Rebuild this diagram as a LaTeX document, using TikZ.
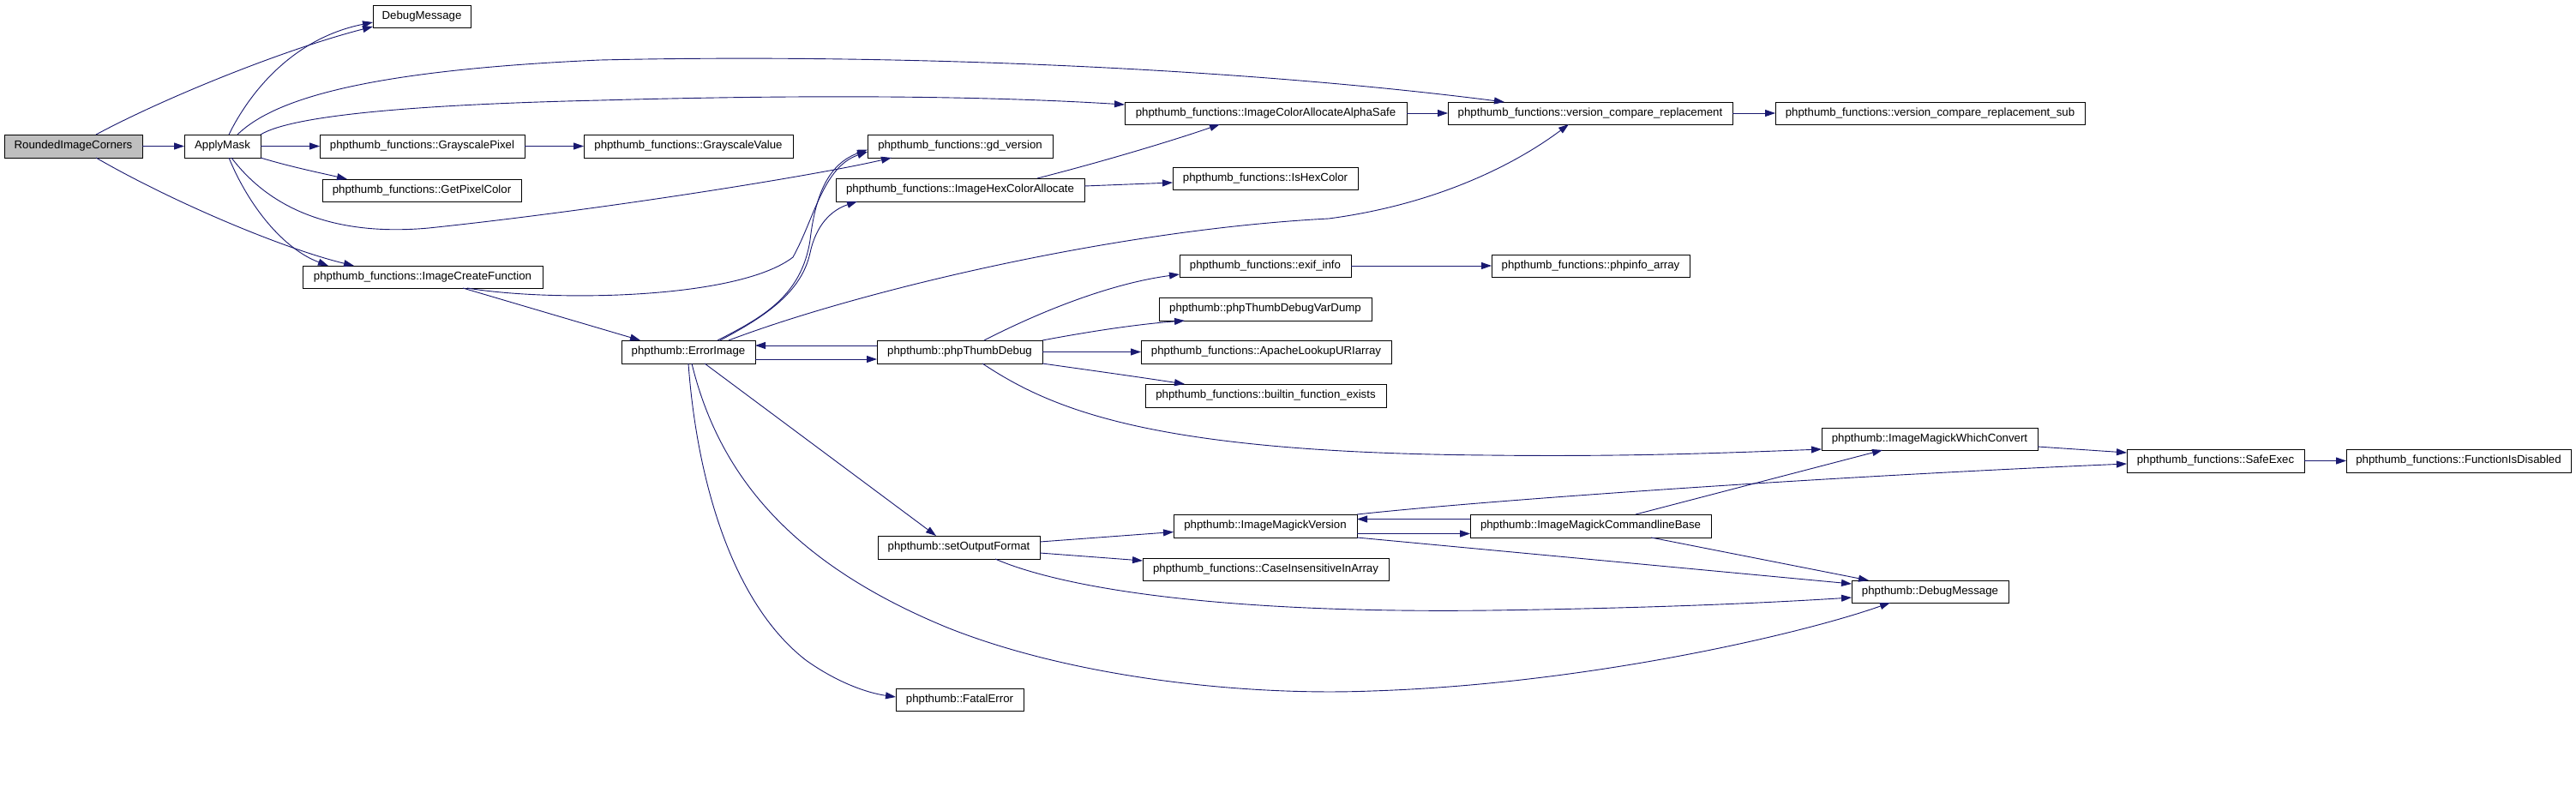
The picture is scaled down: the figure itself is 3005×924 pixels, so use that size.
\documentclass[tikz,border=0pt]{standalone}
\usepackage{fontspec}
\setmainfont{Liberation Sans}
\usetikzlibrary{arrows.meta}
\definecolor{edgeblue}{RGB}{25,25,112}
\definecolor{rootgray}{RGB}{191,191,191}
\begin{document}
\begin{tikzpicture}[x=1pt,y=-1pt,
  fnbox/.style={draw=black,line width=1pt,fill=white,inner sep=0pt,outer sep=0pt,
    minimum height=27pt,font=\fontsize{13.25}{16}\selectfont,text=black},
  rootbox/.style={fnbox,fill=rootgray},
  call/.style={draw=edgeblue,line width=0.9pt,-{Triangle[length=12pt,width=8pt]}}]
\useasboundingbox[fill=white] (0,0) rectangle (3005,924);

% nodes
\node[rootbox,minimum width=161pt] (ric) at (85.5,170.5) {RoundedImageCorners};
\node[fnbox,minimum width=89pt] (am) at (259.5,170.5) {ApplyMask};
\node[fnbox,minimum width=114pt,minimum height=26pt] (dm) at (492,19) {DebugMessage};
\node[fnbox,minimum width=239pt] (gp) at (492.5,170.5) {phpthumb\_functions::GrayscalePixel};
\node[fnbox,minimum width=232pt,minimum height=26pt] (gpc) at (492,222) {phpthumb\_functions::GetPixelColor};
\node[fnbox,minimum width=280pt,minimum height=26pt] (icf) at (493,323) {phpthumb\_functions::ImageCreateFunction};
\node[fnbox,minimum width=244pt] (gv) at (803,170.5) {phpthumb\_functions::GrayscaleValue};
\node[fnbox,minimum width=216pt] (gd) at (1120,170.5) {phpthumb\_functions::gd\_version};
\node[fnbox,minimum width=290pt] (hex) at (1120,221.5) {phpthumb\_functions::ImageHexColorAllocate};
\node[fnbox,minimum width=329pt,minimum height=26pt] (alpha) at (1476.5,132) {phpthumb\_functions::ImageColorAllocateAlphaSafe};
\node[fnbox,minimum width=332pt,minimum height=26pt] (vcr) at (1855,132) {phpthumb\_functions::version\_compare\_replacement};
\node[fnbox,minimum width=361pt,minimum height=26pt] (vcrs) at (2251.5,132) {phpthumb\_functions::version\_compare\_replacement\_sub};
\node[fnbox,minimum width=216pt,minimum height=26pt] (ishex) at (1476,208) {phpthumb\_functions::IsHexColor};
\node[fnbox,minimum width=156pt] (err) at (803,410.5) {phpthumb::ErrorImage};
\node[fnbox,minimum width=193pt] (dbg) at (1119.5,410.5) {phpthumb::phpThumbDebug};
\node[fnbox,minimum width=200pt,minimum height=26pt] (exif) at (1476,310) {phpthumb\_functions::exif\_info};
\node[fnbox,minimum width=231pt,minimum height=26pt] (phpinfo) at (1855.5,310) {phpthumb\_functions::phpinfo\_array};
\node[fnbox,minimum width=248pt] (vardump) at (1476,360.5) {phpthumb::phpThumbDebugVarDump};
\node[fnbox,minimum width=292pt] (apache) at (1477,410.5) {phpthumb\_functions::ApacheLookupURIarray};
\node[fnbox,minimum width=281pt] (builtin) at (1476.5,461.5) {phpthumb\_functions::builtin\_function\_exists};
\node[fnbox,minimum width=252pt,minimum height=26pt] (which) at (2251,512) {phpthumb::ImageMagickWhichConvert};
\node[fnbox,minimum width=207pt] (safe) at (2584.5,537.5) {phpthumb\_functions::SafeExec};
\node[fnbox,minimum width=262pt] (fid) at (2868,537.5) {phpthumb\_functions::FunctionIsDisabled};
\node[fnbox,minimum width=214pt] (imv) at (1476,613.5) {phpthumb::ImageMagickVersion};
\node[fnbox,minimum width=281pt] (cmd) at (1855.5,613.5) {phpthumb::ImageMagickCommandlineBase};
\node[fnbox,minimum width=189pt] (sof) at (1118.5,638.5) {phpthumb::setOutputFormat};
\node[fnbox,minimum width=287pt,minimum height=26pt] (cia) at (1476.5,664) {phpthumb\_functions::CaseInsensitiveInArray};
\node[fnbox,minimum width=183pt,minimum height=26pt] (pdm) at (2251.5,690) {phpthumb::DebugMessage};
\node[fnbox,minimum width=149pt,minimum height=26pt] (fatal) at (1119.5,816) {phpthumb::FatalError};

% RoundedImageCorners
\draw[call] (ric.east) -- (am.west);
\draw[call] ([xshift=107pt]ric.north west) .. controls (190,115) and (330,58) .. ([yshift=-12pt]dm.west);
\draw[call] ([xshift=107pt]ric.south west) .. controls (200,235) and (330,290) .. ([xshift=60pt]icf.north west);

% ApplyMask
\draw[call] ([xshift=52pt]am.north west) .. controls (290,110) and (340,45) .. ([yshift=-7pt]dm.west);
\draw[call] ([xshift=62pt]am.north west) .. controls (320,115) and (430,82) .. (700,70)
  .. controls (1050,62) and (1450,80) .. ([xshift=66pt]vcr.north west);
\draw[call] (am.north east) .. controls (340,135) and (480,122) .. (700,117)
  .. controls (950,110) and (1150,112) .. ([yshift=10pt]alpha.west);
\draw[call] (am.east) -- (gp.west);
\draw[call] (am.south east) .. controls (340,195) and (380,203) .. ([xshift=29pt]gpc.north west);
\draw[call] ([xshift=55pt]am.south west) .. controls (320,250) and (400,275) .. (500,266)
  .. controls (700,245) and (950,205) .. ([xshift=28pt]gd.south west);
\draw[call] ([xshift=52pt]am.south west) .. controls (290,240) and (330,290) .. ([xshift=30pt]icf.north west);

\draw[call] (gp.east) -- (gv.west);

% ImageCreateFunction
\draw[call] ([xshift=192pt]icf.south west) .. controls (640,352) and (860,350) .. (925,300)
  .. controls (950,255) and (960,195) .. ([yshift=-6.5pt]gd.west);
\draw[call] ([xshift=187pt]icf.south west) -- ([xshift=22pt]err.north west);

% ErrorImage
\draw[call] ([xshift=112pt]err.north west) .. controls (890,370) and (935,345) .. (945,280)
  .. controls (952,220) and (970,190) .. ([yshift=-4pt]gd.west);
\draw[call] ([xshift=115pt]err.north west) .. controls (895,368) and (935,340) .. (945,295)
  .. controls (952,262) and (970,245) .. ([xshift=25pt]hex.south west);
\draw[call] ([xshift=125pt]err.north west) .. controls (1000,340) and (1300,268) .. (1550,255)
  .. controls (1700,235) and (1790,175) .. ([xshift=141pt]vcr.south west);
\draw[call] ([yshift=-8.5pt]err.east) -- ([yshift=-8.5pt]dbg.west);
\draw[call] ([yshift=7.5pt]dbg.west) -- ([yshift=7.5pt]err.east);
\draw[call] ([xshift=97pt]err.south west) -- ([xshift=68pt]sof.north west);
\draw[call] ([xshift=82pt]err.south west) .. controls (840,560) and (930,660) .. (1105,732)
  .. controls (1250,790) and (1450,812) .. (1600,806)
  .. controls (1850,798) and (2100,740) .. ([xshift=45pt]pdm.south west);
\draw[call] ([xshift=78pt]err.south west) .. controls (812,550) and (850,700) .. (940,770)
  .. controls (975,795) and (1010,808) .. ([yshift=3pt]fatal.west);

% phpThumbDebug
\draw[call] ([xshift=125pt]dbg.north west) .. controls (1220,360) and (1300,330) .. ([yshift=3pt]exif.south west);
\draw[call] (dbg.north east) .. controls (1280,385) and (1330,378) .. ([xshift=30pt]vardump.south west);
\draw[call] (dbg.east) -- (apache.west);
\draw[call] (dbg.south east) .. controls (1280,433) and (1330,440) .. ([xshift=46pt]builtin.north west);
\draw[call] ([xshift=123pt]dbg.south west) .. controls (1230,480) and (1350,528) .. (1737,531)
  .. controls (1900,533) and (2020,528) .. ([yshift=1pt]which.south west);

\draw[call] (exif.east) -- (phpinfo.west);

% ImageHexColorAllocate
\draw[call] ([xshift=235pt]hex.north west) .. controls (1300,185) and (1380,160) .. ([xshift=111pt]alpha.south west);
\draw[call] ([yshift=4.5pt]hex.east) -- ([yshift=-5pt]ishex.west);

\draw[call] (alpha.east) -- (vcr.west);
\draw[call] (vcr.east) -- (vcrs.west);

% setOutputFormat
\draw[call] ([yshift=6.5pt]sof.east) -- ([yshift=-7pt]imv.west);
\draw[call] ([yshift=-6.5pt]sof.east) -- ([yshift=10pt]cia.west);
\draw[call] ([xshift=137pt]sof.south west) .. controls (1230,682) and (1400,716) .. (1737,712)
  .. controls (1950,709) and (2080,702) .. ([yshift=-7pt]pdm.west);

% ImageMagickVersion / CommandlineBase
\draw[call] ([yshift=-9pt]imv.east) -- ([yshift=-9pt]cmd.west);
\draw[call] ([yshift=8pt]cmd.west) -- ([yshift=8pt]imv.east);
\draw[call] (imv.north east) .. controls (1750,582) and (2150,555) .. ([yshift=-3.5pt]safe.west);
\draw[call] (imv.south east) -- ([yshift=-4pt]pdm.north west);
\draw[call] ([xshift=193pt]cmd.north west) -- ([xshift=71pt]which.south west);
\draw[call] ([xshift=211pt]cmd.south west) -- ([xshift=20pt]pdm.north west);

\draw[call] ([yshift=-9pt]which.east) -- ([yshift=9.5pt]safe.west);
\draw[call] (safe.east) -- (fid.west);
\end{tikzpicture}
\end{document}
